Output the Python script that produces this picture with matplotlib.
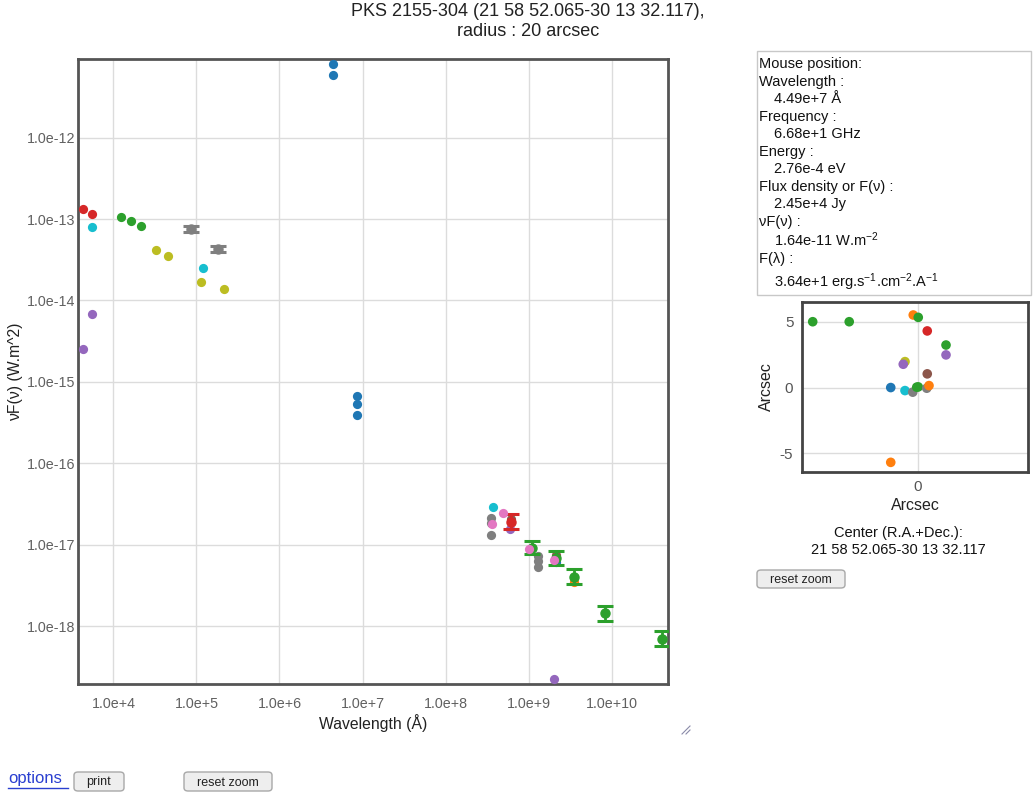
import numpy as np
import matplotlib
matplotlib.use('Agg')
import matplotlib.pyplot as plt
from matplotlib.patches import Rectangle, FancyBboxPatch
from matplotlib.lines import Line2D

plt.rcParams['font.family'] = ['Liberation Sans', 'DejaVu Sans']
plt.rcParams['mathtext.fontset'] = 'custom'
plt.rcParams['mathtext.rm'] = 'Liberation Sans'
plt.rcParams['mathtext.it'] = 'Liberation Sans:italic'

W, H = 1035, 792

# SED points, wavelength (A) and nuF(nu) (W.m^-2), one list per colour
blue_wl = [4.45e6, 4.45e6, 8.51e6, 8.51e6, 8.51e6, 2.14e9]
blue_fl = [8.09e-12, 5.87e-12, 6.78e-16, 5.36e-16, 3.93e-16, 6.10e-18]
orange_wl = [3.56e9]
orange_fl = [3.47e-18]
green_wl = [1.22e4, 1.63e4, 2.13e4]
green_fl = [1.05e-13, 9.51e-14, 8.26e-14]
red_wl = [4.33e3, 5.46e3]
red_fl = [1.32e-13, 1.16e-13]
purple_wl = [5.46e3, 4.33e3, 6.03e8, 2.03e9]
purple_fl = [6.87e-15, 2.55e-15, 1.58e-17, 2.22e-19]
brown_wl = [6.15e8, 2.14e9]
brown_fl = [2.09e-17, 7.41e-18]
pink_wl = [4.98e8, 3.63e8, 1.02e9, 2.04e9]
pink_fl = [2.46e-17, 1.79e-17, 8.91e-18, 6.46e-18]
gray_wl = [3.51e8, 3.51e8, 3.51e8, 1.31e9, 1.31e9, 1.31e9]
gray_fl = [2.14e-17, 1.86e-17, 1.32e-17, 7.23e-18, 6.28e-18, 5.30e-18]
olive_wl = [3.28e4, 4.54e4, 1.14e5, 2.16e5]
olive_fl = [4.19e-14, 3.53e-14, 1.69e-14, 1.40e-14]
cyan_wl = [5.46e3, 1.19e5, 3.71e8]
cyan_fl = [7.94e-14, 2.49e-14, 2.92e-17]

# points with error bars (error in dex)
gray_err_wl = [8.59e4, 1.83e5]
gray_err_fl = [7.59e-14, 4.31e-14]
gray_err_dex = [0.035, 0.035]
red_err_wl = [6.15e8]
red_err_fl = [1.91e-17]
red_err_dex = [0.092]
green_err_wl = [1.09e9, 2.14e9, 3.56e9, 8.36e9, 4.09e10]
green_err_fl = [9.16e-18, 6.81e-18, 4.02e-18, 1.43e-18, 7.03e-19]
green_err_dex = [0.082, 0.088, 0.092, 0.092, 0.092]

xtick_vals = [1e4, 1e5, 1e6, 1e7, 1e8, 1e9, 1e10]
xtick_labels = ['1.0e+4', '1.0e+5', '1.0e+6', '1.0e+7', '1.0e+8', '1.0e+9', '1.0e+10']
ytick_vals = [1e-18, 1e-17, 1e-16, 1e-15, 1e-14, 1e-13, 1e-12]
ytick_labels = ['1.0e-18', '1.0e-17', '1.0e-16', '1.0e-15', '1.0e-14', '1.0e-13', '1.0e-12']

# source positions around the centre (arcsec)
pos_x = [-4.2, -2.74, -0.18, 0.02, 0.38, 1.13, 1.13, -0.51, -0.58, 0.38,
         -1.08, -0.51, -0.2, -0.04, 0.02, 0.36, 0.45, -1.08]
pos_y = [5.0, 5.0, 5.51, 5.33, 4.30, 3.23, 2.48, 1.97, 1.77, 1.04,
         0.0, -0.23, -0.35, 0.03, 0.05, -0.05, 0.15, -5.68]
pos_col = ['green', 'green', 'orange', 'green', 'red', 'green', 'purple', 'olive', 'purple', 'brown',
           'blue', 'cyan', 'gray', 'green', 'green', 'gray', 'orange', 'orange']

info_lines = ['Mouse position:', 'Wavelength :', '4.49e+7 Å', 'Frequency :', '6.68e+1 GHz',
              'Energy :', '2.76e-4 eV', 'Flux density or F(ν) :', '2.45e+4 Jy', 'νF(ν) :',
              '1.64e-11 W.m$^{-2}$', 'F(λ) :', '3.64e+1 erg.s$^{-1}$.cm$^{-2}$.A$^{-1}$']
info_y = [64, 82, 99, 117, 134, 152, 169, 187, 204, 222, 240, 259, 282]

colors = {'blue': '#1f77b4', 'orange': '#ff7f0e', 'green': '#2ca02c', 'red': '#d62728',
          'purple': '#9467bd', 'brown': '#8c564b', 'pink': '#e377c2', 'gray': '#7f7f7f',
          'olive': '#bcbd22', 'cyan': '#17becf'}


def fx(x):
    return x / W


def fy(y):
    return 1 - y / H


fig = plt.figure(figsize=(W / 100, H / 100), dpi=100)

ax = fig.add_axes([fx(78.3), fy(684.3), (667.7 - 78.3) / W, (684.3 - 59.3) / H])
ax.set_xscale('log')
ax.set_yscale('log')
ax.set_xlim(10 ** 3.576, 10 ** 10.677)
ax.set_ylim(10 ** -18.715, 10 ** -11.038)

series = [(blue_wl, blue_fl, 'blue'), (orange_wl, orange_fl, 'orange'), (green_wl, green_fl, 'green'),
          (red_wl, red_fl, 'red'), (purple_wl, purple_fl, 'purple'), (brown_wl, brown_fl, 'brown'),
          (gray_wl, gray_fl, 'gray'), (olive_wl, olive_fl, 'olive'), (cyan_wl, cyan_fl, 'cyan')]
for wl, fl, c in series:
    ax.scatter(wl, fl, s=44, color=colors[c], linewidths=0, zorder=3)

for wl, fl, dex, c in [(gray_err_wl, gray_err_fl, gray_err_dex, 'gray'),
                       (red_err_wl, red_err_fl, red_err_dex, 'red'),
                       (green_err_wl, green_err_fl, green_err_dex, 'green')]:
    fl = np.array(fl)
    dex = np.array(dex)
    lo = fl - fl * 10 ** (-dex)
    hi = fl * 10 ** dex - fl
    ax.errorbar(wl, fl, yerr=[lo, hi], fmt='o', ms=6.5, color=colors[c], ecolor=colors[c],
                elinewidth=2, capsize=5.5, capthick=2.2, zorder=4)

ax.scatter(pink_wl, pink_fl, s=44, color=colors['pink'], linewidths=0, zorder=5)

ax.set_xticks(xtick_vals)
ax.set_xticklabels(xtick_labels)
ax.set_yticks(ytick_vals)
ax.set_yticklabels(ytick_labels)
ax.xaxis.set_minor_locator(matplotlib.ticker.NullLocator())
ax.yaxis.set_minor_locator(matplotlib.ticker.NullLocator())
ax.tick_params(length=0, labelsize=10.3, colors='#606060')
ax.tick_params(axis='x', pad=9)
ax.tick_params(axis='y', pad=2)
ax.grid(True, color='#dcdcdc', lw=1)
ax.set_axisbelow(True)
for s in ax.spines.values():
    s.set_color('#555555')
    s.set_linewidth(2)
ax.set_xlabel('Wavelength (Å)', fontsize=11.3, color='#222222', labelpad=2)
ax.set_ylabel('νF(ν) (W.m^2)', fontsize=11.3, color='#222222', labelpad=3)

fig.text(fx(528), fy(12), 'PKS 2155-304 (21 58 52.065-30 13 32.117),', ha='center', va='center',
         fontsize=13, color='#222222')
fig.text(fx(528), fy(31), 'radius : 20 arcsec', ha='center', va='center', fontsize=13, color='#222222')

# info box
fig.add_artist(Rectangle((fx(756.5), fy(294.5)), (1031 - 756.5) / W, (294.5 - 51) / H,
                         transform=fig.transFigure, fill=False, ec='#c8c8c8', lw=1))
for i, line in enumerate(info_lines):
    x = 759 if i in (0, 1, 3, 5, 7, 9, 11) else 774
    fig.text(fx(x), fy(info_y[i]), line, ha='left', va='center', fontsize=10.5, color='#111111')

# position plot
ax2 = fig.add_axes([fx(801.7), fy(471.7), (1028.3 - 801.7) / W, (471.7 - 301.7) / H])
ax2.set_xlim(-4.64, 4.42)
ax2.set_ylim(-6.39, 6.52)
ax2.scatter(pos_x, pos_y, s=48, c=[colors[c] for c in pos_col], linewidths=0, zorder=3)
ax2.set_xticks([0])
ax2.set_yticks([-5, 0, 5])
ax2.set_yticklabels(['-5', '0', '5'])
ax2.tick_params(length=0, labelsize=11, colors='#555555', pad=6)
ax2.grid(True, color='#dcdcdc', lw=1)
ax2.set_axisbelow(True)
for s in ax2.spines.values():
    s.set_color('#444444')
    s.set_linewidth(2)
ax2.set_xlabel('Arcsec', fontsize=11.5, color='#222222', labelpad=3)
ax2.set_ylabel('Arcsec', fontsize=11.5, color='#222222', labelpad=4)

fig.text(fx(898), fy(533), 'Center (R.A.+Dec.):', ha='center', va='center', fontsize=10.5, color='#111111')
fig.text(fx(898), fy(550), '21 58 52.065-30 13 32.117', ha='center', va='center', fontsize=10.5,
         color='#111111')


def button(x0, y0, x1, y1, label):
    fig.add_artist(FancyBboxPatch((fx(x0), fy(y1)), (x1 - x0) / W, (y1 - y0) / H,
                                  boxstyle='round,pad=0,rounding_size=0.004', transform=fig.transFigure,
                                  fc='#eeeeee', ec='#a8a8a8', lw=1))
    fig.text(fx((x0 + x1) / 2), fy((y0 + y1) / 2 + 1), label, ha='center', va='center', fontsize=9,
             color='#222222')


button(757, 570, 845, 588, 'reset zoom')
button(74, 772, 124, 791, 'print')
button(184, 772, 272, 791, 'reset zoom')

fig.text(fx(8), fy(779), 'options', ha='left', va='center', fontsize=12, color='#2a3fd0')
fig.add_artist(Line2D([fx(8), fx(68)], [fy(788), fy(788)], color='#2a3fd0', lw=1, transform=fig.transFigure))

# resize grip
for d in (4, 8):
    fig.add_artist(Line2D([fx(690 - d), fx(690)], [fy(734), fy(734 - d)], color='#8a8aa8', lw=0.8,
                          transform=fig.transFigure))

fig.savefig('out.png', dpi=100)
